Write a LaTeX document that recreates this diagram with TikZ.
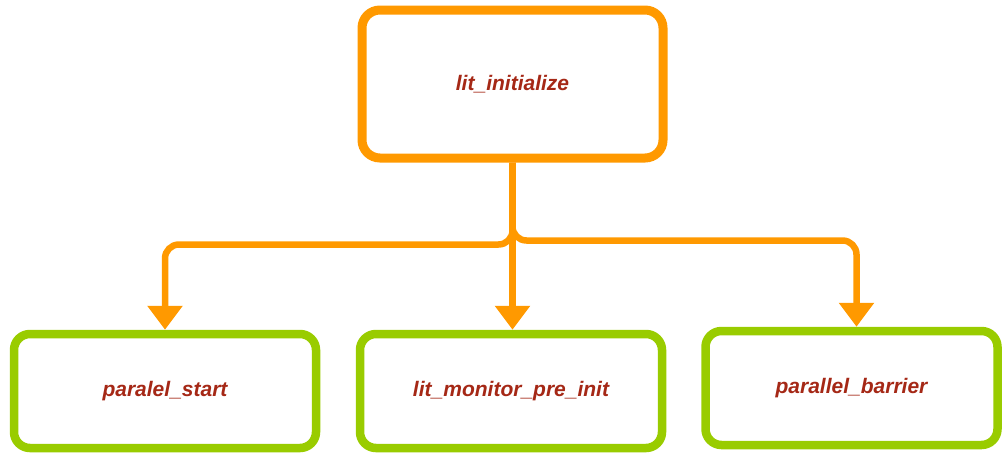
\documentclass[tikz,border=0pt]{standalone}
\usepackage{fontspec}
\setmainfont{Liberation Sans}
\usetikzlibrary{arrows.meta}
\definecolor{orng}{RGB}{255,153,0}
\definecolor{grn}{RGB}{153,204,0}
\definecolor{txt}{RGB}{165,40,22}
\tikzset{
  lbl/.style={font=\fontsize{21}{25}\selectfont\bfseries\itshape, text=txt},
  topbox/.style={lbl, draw=orng, line width=9pt, rounded corners=18pt, fill=white,
    minimum width=301pt, minimum height=148pt, inner sep=0pt},
  leafbox/.style={lbl, draw=grn, line width=8.5pt, rounded corners=16pt, fill=white,
    minimum width=302pt, minimum height=114pt, inner sep=0pt},
  conn/.style={draw=orng, line width=6.5pt, rounded corners=14pt,
    -{Triangle[width=34pt,length=24pt]}}
}
\begin{document}
\begin{tikzpicture}[x=1pt,y=-1pt]
\useasboundingbox (0,0) rectangle (1003,453);
\node[topbox] (init) at (512.5,84) {lit\_initialize};
\node[leafbox] (ps) at (165,391) {paralel\_start};
\node[leafbox] (mon) at (511,391) {lit\_monitor\_pre\_init};
\node[leafbox, minimum width=292pt] (pb) at (851.5,388) {parallel\_barrier};
\coordinate (pbin) at ([xshift=5pt]pb.north);
\draw[conn] (init.south) -- ++(0,82) -| (ps.north);
\draw[conn] (init.south) -- ++(0,78) -| (pbin);
\draw[conn, rounded corners=0pt] (init.south) -- (init.south |- mon.north);
\end{tikzpicture}
\end{document}
